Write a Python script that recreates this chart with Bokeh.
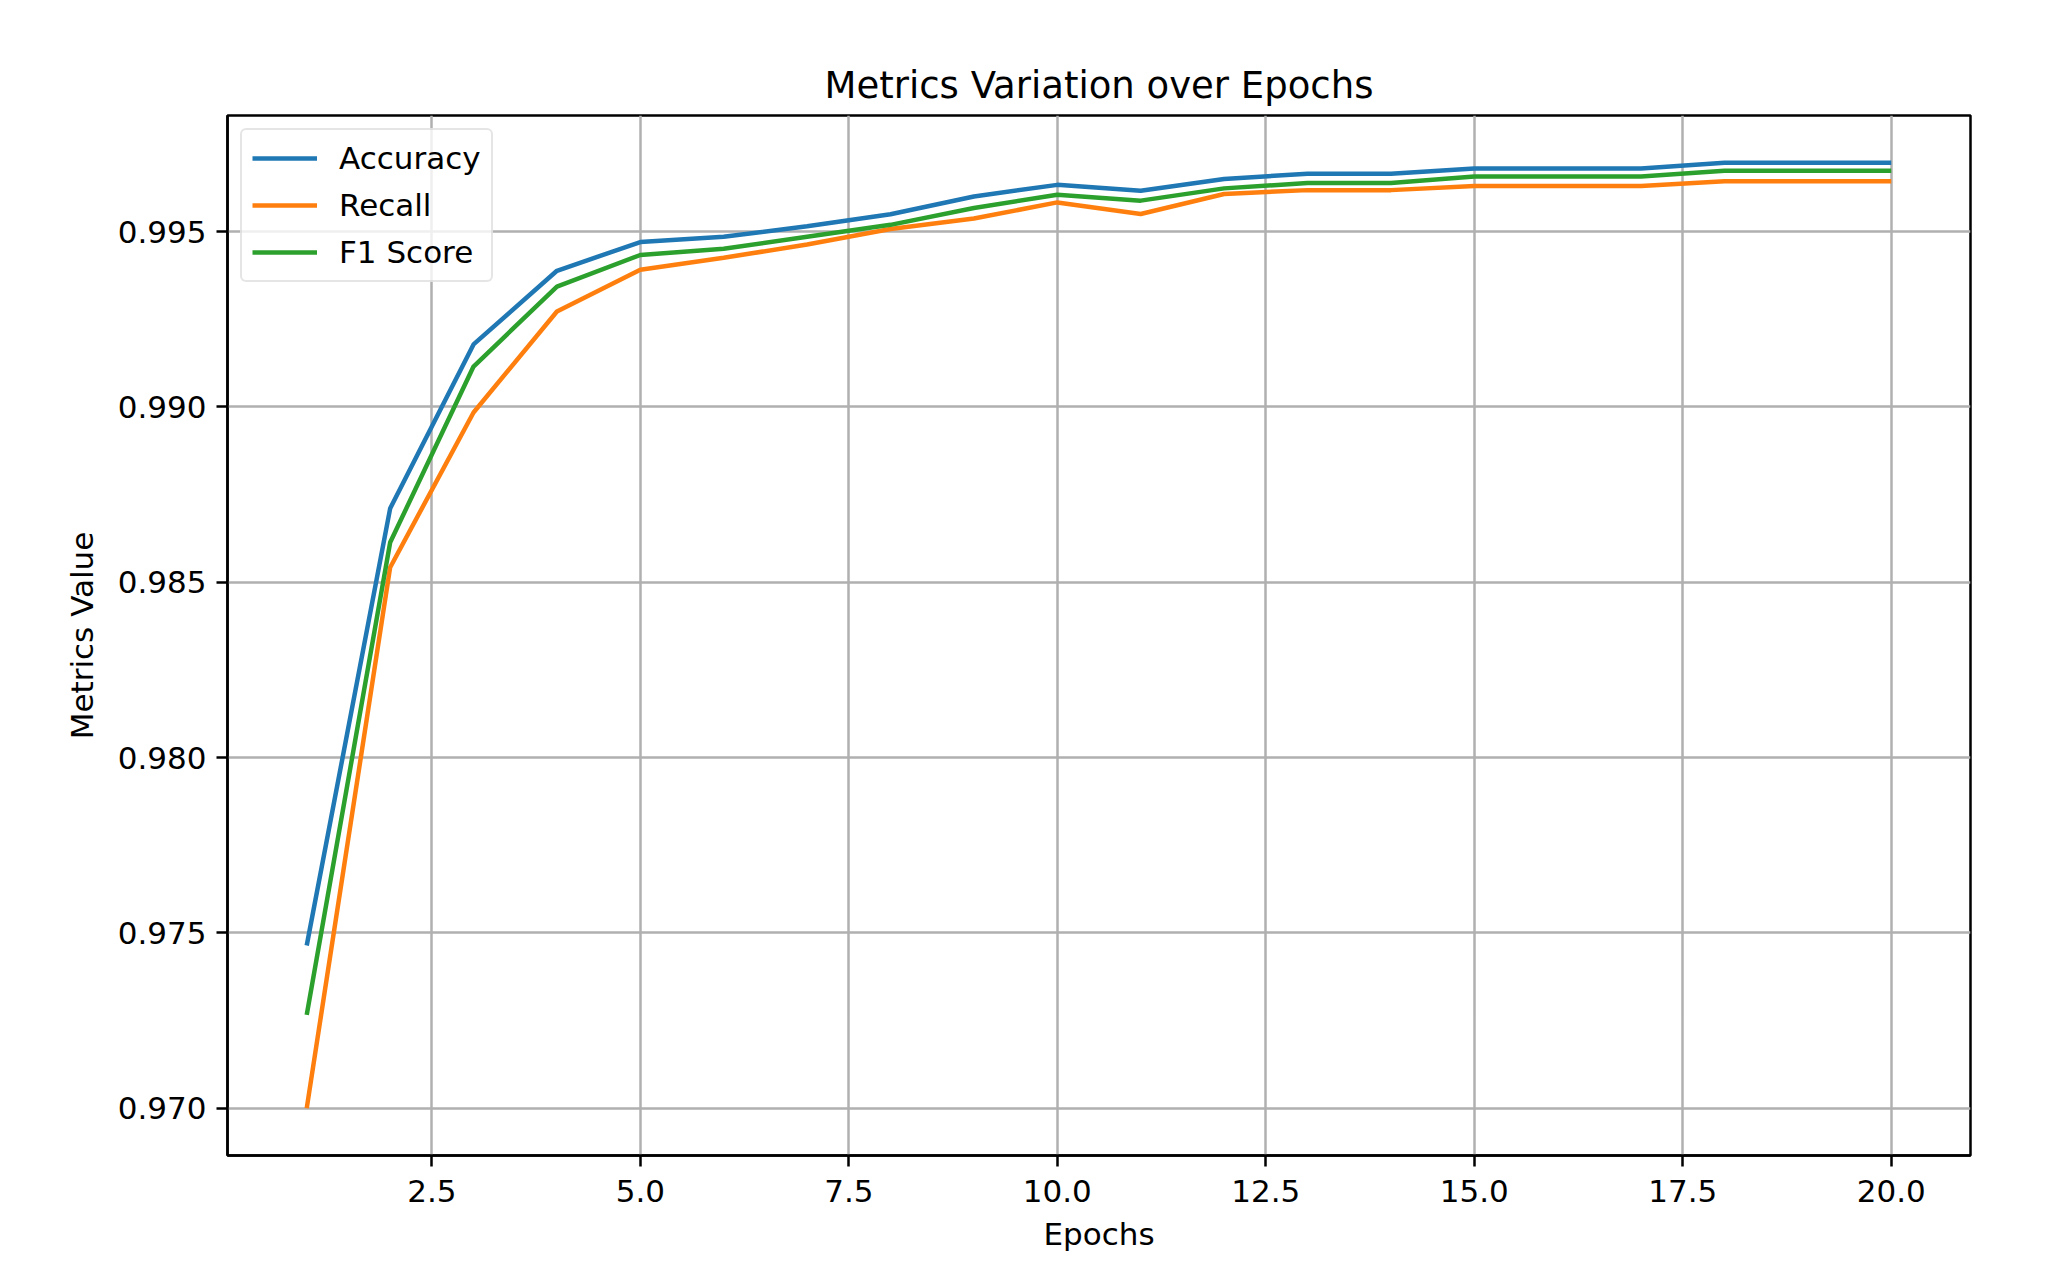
from bokeh.plotting import figure
from bokeh.models import FixedTicker, PrintfTickFormatter, Legend, LegendItem, Range1d
from bokeh.embed import file_html
from bokeh.resources import INLINE

epochs = list(range(1, 21))
accuracy = [0.97464, 0.98710, 0.99178, 0.99388, 0.99470, 0.99485, 0.99515, 0.99549,
            0.99600, 0.99633, 0.99616, 0.99650, 0.99665, 0.99665, 0.99680, 0.99680,
            0.99680, 0.99696, 0.99696, 0.99696]
recall = [0.97000, 0.98542, 0.98984, 0.99272, 0.99391, 0.99425, 0.99463, 0.99507,
          0.99537, 0.99583, 0.99550, 0.99607, 0.99618, 0.99618, 0.99630, 0.99630,
          0.99630, 0.99643, 0.99643, 0.99643]
f1_score = [0.97266, 0.98613, 0.99115, 0.99343, 0.99433, 0.99451, 0.99485, 0.99519,
            0.99567, 0.99605, 0.99588, 0.99623, 0.99638, 0.99638, 0.99657, 0.99657,
            0.99657, 0.99673, 0.99673, 0.99673]
series_names = ["Accuracy", "Recall", "F1 Score"]
series_colors = ["#1f77b4", "#ff7f0e", "#2ca02c"]
x_ticks = [2.5, 5.0, 7.5, 10.0, 12.5, 15.0, 17.5, 20.0]
y_ticks = [0.970, 0.975, 0.980, 0.985, 0.990, 0.995]

FONT = "DejaVu Sans"

# matplotlib-style 5% margins
xmin, xmax = min(epochs), max(epochs)
allv = accuracy + recall + f1_score
ymin, ymax = min(allv), max(allv)
xm = (xmax - xmin) * 0.05
ym = (ymax - ymin) * 0.05

p = figure(width=2055, height=1265, output_backend="svg", toolbar_location=None,
           x_range=Range1d(xmin - xm, xmax + xm), y_range=Range1d(ymin - ym, ymax + ym),
           min_border_left=227, min_border_right=85, min_border_top=115, min_border_bottom=110)

p.title.text = "Metrics Variation over Epochs"
p.title.align = "center"
p.title.text_font = FONT
p.title.text_font_size = "37px"
p.title.text_font_style = "normal"
p.title.text_color = "black"
p.title.standoff = 17

p.background_fill_color = "white"
p.border_fill_color = "white"
p.outline_line_color = "black"
p.outline_line_width = 2.5

items = []
for name, col, ys in zip(series_names, series_colors, [accuracy, recall, f1_score]):
    r = p.line(epochs, ys, line_color=col, line_width=4.5)
    items.append(LegendItem(label=name, renderers=[r]))

p.xaxis.ticker = FixedTicker(ticks=x_ticks)
p.yaxis.ticker = FixedTicker(ticks=y_ticks)
p.xaxis.formatter = PrintfTickFormatter(format="%.1f")
p.yaxis.formatter = PrintfTickFormatter(format="%.3f")
p.xaxis.axis_label = "Epochs"
p.yaxis.axis_label = "Metrics Value"

for ax in (p.xaxis, p.yaxis):
    ax.axis_label_text_font = FONT
    ax.axis_label_text_font_size = "31px"
    ax.axis_label_text_font_style = "normal"
    ax.axis_label_text_color = "black"
    ax.major_label_text_font = FONT
    ax.major_label_text_font_size = "31px"
    ax.major_label_text_color = "black"
    ax.major_tick_out = 11
    ax.major_tick_in = 0
    ax.major_tick_line_width = 2.5
    ax.major_tick_line_color = "black"
    ax.minor_tick_line_color = None
    ax.axis_line_color = "black"
    ax.axis_line_width = 2.5

p.xaxis.major_label_standoff = 13
p.yaxis.major_label_standoff = 10
p.xaxis.axis_label_standoff = 11
p.yaxis.axis_label_standoff = 15

p.grid.grid_line_color = "#b0b0b0"
p.grid.grid_line_width = 2.5

legend = Legend(items=items, location="top_left")
legend.label_text_font = FONT
legend.label_text_font_size = "31px"
legend.label_text_color = "black"
legend.glyph_width = 65
legend.glyph_height = 36
legend.label_height = 36
legend.label_standoff = 22
legend.spacing = 11
legend.padding = 10
legend.margin = 13
legend.border_line_color = "#cccccc"
legend.border_line_width = 2
legend.border_radius = 6
legend.background_fill_color = "white"
legend.background_fill_alpha = 0.8
p.add_layout(legend)

open("out.html", "w").write(file_html(p, INLINE))
